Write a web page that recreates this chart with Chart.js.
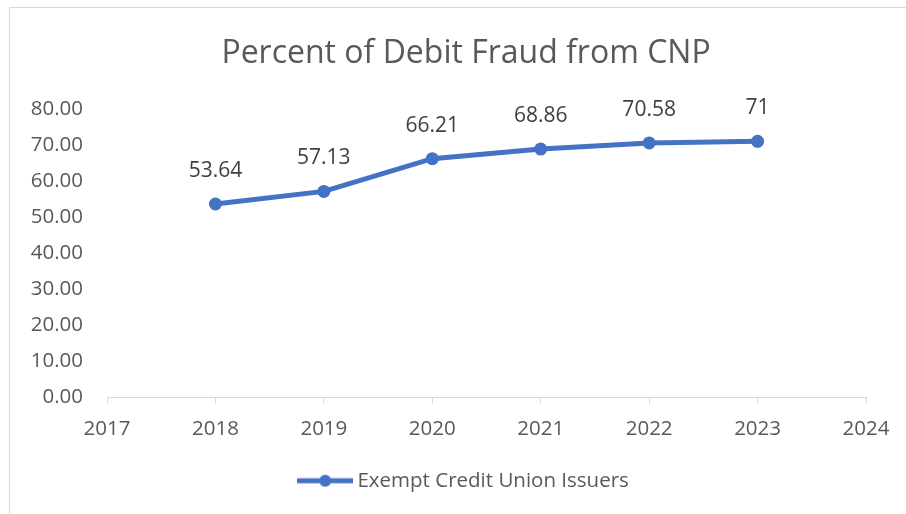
<!DOCTYPE html>
<html>
<head>
<meta charset="utf-8">
<script src="https://cdn.jsdelivr.net/npm/chart.js@4/dist/chart.umd.min.js"></script>
<style>
  html, body { margin: 0; padding: 0; background: #ffffff; overflow: hidden; }
  #frame { position: absolute; left: 9px; top: 7px; width: 920px; height: 530px; border: 1px solid #d9d9d9; box-sizing: border-box; }
  #wrap { position: absolute; left: 0; top: 0; width: 906px; height: 514px; overflow: hidden; }
</style>
</head>
<body>
<div id="frame"></div>
<div id="wrap"><canvas id="c" width="932" height="514"></canvas></div>
<script>
const years = [2018, 2019, 2020, 2021, 2022, 2023];
const values = [53.64, 57.13, 66.21, 68.86, 70.58, 71];
const seriesName = "Exempt Credit Union Issuers";
const chartTitle = "Percent of Debit Fraud from CNP";
const xMin = 2017, xMax = 2024;
const yMin = 0, yMax = 80, yStep = 10;

const BLUE = "#4472C4";
const FONT = "'Open Sans', 'DejaVu Sans', sans-serif";

// legend marker: line with a circle
const mk = document.createElement('canvas');
mk.width = 56; mk.height = 14;
(function(){
  const g = mk.getContext('2d');
  g.strokeStyle = BLUE; g.lineWidth = 5; g.lineCap = 'butt';
  g.beginPath(); g.moveTo(0, 7); g.lineTo(56, 7); g.stroke();
  g.fillStyle = BLUE; g.beginPath(); g.arc(28, 7, 6, 0, Math.PI * 2); g.fill();
})();

const dataLabels = {
  id: 'dataLabels',
  afterDatasetsDraw(chart) {
    const ctx = chart.ctx;
    const meta = chart.getDatasetMeta(0);
    ctx.save();
    ctx.font = "21px " + FONT;
    ctx.fillStyle = "#404040";
    ctx.textAlign = 'center';
    ctx.textBaseline = 'middle';
    meta.data.forEach((pt, i) => {
      ctx.fillText(String(values[i]), pt.x, pt.y - 33);
    });
    ctx.restore();
  }
};

new Chart(document.getElementById('c'), {
  type: 'line',
  data: {
    datasets: [{
      label: seriesName,
      data: years.map((y, i) => ({ x: y, y: values[i] })),
      borderColor: BLUE,
      backgroundColor: BLUE,
      borderWidth: 5,
      pointRadius: 6.5,
      pointHoverRadius: 6.5,
      pointBackgroundColor: BLUE,
      pointBorderWidth: 0,
      pointStyle: 'circle',
      tension: 0,
      fill: false
    }]
  },
  options: {
    responsive: false,
    animation: false,
    devicePixelRatio: 1,
    layout: { padding: { left: 0, right: 0, top: 0, bottom: 13 } },
    plugins: {
      title: {
        display: true,
        text: chartTitle,
        color: "#595959",
        font: { family: FONT, size: 32, weight: 'normal' },
        padding: { top: 35, bottom: 35.5 }
      },
      legend: {
        display: true,
        position: 'bottom',
        labels: {
          usePointStyle: true,
          pointStyle: mk,
          pointStyleWidth: 44,
          color: "#595959",
          font: { family: FONT, size: 20.5 },
          padding: 12
        }
      },
      tooltip: { enabled: false }
    },
    scales: {
      x: {
        type: 'linear',
        min: xMin, max: xMax,
        ticks: {
          stepSize: 1,
          color: "#595959",
          font: { family: FONT, size: 20.5 },
          padding: 13,
          callback: v => String(v)
        },
        grid: { drawOnChartArea: false, drawTicks: true, tickLength: 6, color: "#d9d9d9" },
        border: { display: true, color: "#d9d9d9", width: 1 },
        afterFit(scale) { scale.height = 61; }
      },
      y: {
        min: yMin, max: yMax,
        ticks: {
          stepSize: yStep,
          color: "#595959",
          font: { family: FONT, size: 20.5 },
          padding: 24,
          callback: v => Number(v).toFixed(2)
        },
        grid: { display: false, drawTicks: false },
        border: { display: false },
        afterFit(scale) { scale.width = 107; }
      },
      yRight: {
        position: 'right',
        min: yMin, max: yMax,
        ticks: { display: false },
        grid: { display: false, drawTicks: false },
        border: { display: false },
        afterFit(scale) { scale.width = 66; }
      }
    }
  },
  plugins: [dataLabels]
});
</script>
</body>
</html>
